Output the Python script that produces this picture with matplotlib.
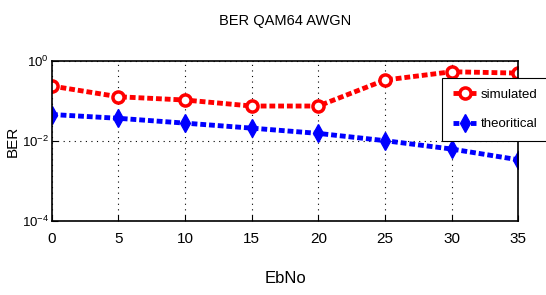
import matplotlib
matplotlib.use("Agg")
import matplotlib.pyplot as plt

ebno = [0, 5, 10, 15, 20, 25, 30, 35]
ber_sim = [0.237, 0.128, 0.106, 0.075, 0.075, 0.335, 0.54, 0.5]
ber_theory = [0.046, 0.037, 0.028, 0.021, 0.0155, 0.0102, 0.0063, 0.0034]
xticks = [0, 5, 10, 15, 20, 25, 30, 35]
yticks = [1e-4, 1e-2, 1e0]

plt.rcParams['font.family'] = ['Liberation Sans', 'DejaVu Sans']
fig = plt.figure(figsize=(5.46, 2.95), dpi=100)
ax = fig.add_axes([0.095, 0.251, 0.854, 0.542])

ax.semilogy(ebno, ber_sim, color='red', linestyle=(0, (1.2, 0.6)), linewidth=3.5,
            marker='o', markersize=8, markerfacecolor='white', markeredgecolor='red',
            markeredgewidth=2.5, label='simulated')
ax.semilogy(ebno, ber_theory, color='blue', linestyle=(0, (1.2, 0.6)), linewidth=3.5,
            marker='d', markersize=9, markerfacecolor='blue', markeredgecolor='blue',
            label='theoritical')

ax.set_xlim(0, 35)
ax.set_ylim(1e-4, 1e0)
ax.set_xticks(xticks)
ax.set_yticks(yticks)
ax.minorticks_off()
ax.grid(True, which='major', color='black', linestyle=(0, (1, 4)), linewidth=0.8)
ax.tick_params(axis='x', labelsize=11, direction='in', length=4, pad=8)
ax.tick_params(axis='y', labelsize=9.5, direction='in', length=4, pad=2)
for s in ax.spines.values():
    s.set_linewidth(1.2)

ax.set_title('BER QAM64 AWGN', fontsize=10.5, pad=26)
ax.set_xlabel('EbNo', fontsize=12, labelpad=18)
ax.set_ylabel('BER', fontsize=11)
ax.yaxis.set_label_coords(-0.068, 0.5)

leg = ax.legend(loc='upper left', bbox_to_anchor=(0.837, 0.894), fontsize=9.5,
                frameon=True, fancybox=False, edgecolor='black', framealpha=1,
                handlelength=1.8, handletextpad=0.3, labelspacing=1.3,
                borderpad=0.8, borderaxespad=0)
leg.get_frame().set_linewidth(0.8)

fig.savefig('out.png', dpi=100)
